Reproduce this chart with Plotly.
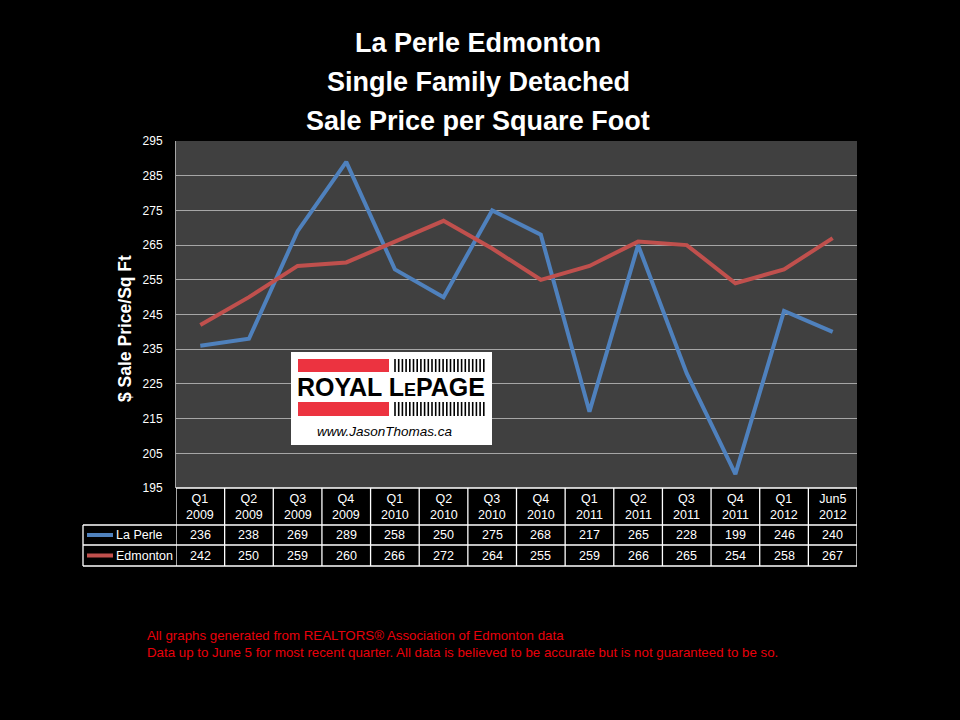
import plotly.graph_objects as go

categories = ["Q1 2009", "Q2 2009", "Q3 2009", "Q4 2009", "Q1 2010", "Q2 2010", "Q3 2010",
              "Q4 2010", "Q1 2011", "Q2 2011", "Q3 2011", "Q4 2011", "Q1 2012", "Jun5 2012"]
la_perle = [236, 238, 269, 289, 258, 250, 275, 268, 217, 265, 228, 199, 246, 240]
edmonton = [242, 250, 259, 260, 266, 272, 264, 255, 259, 266, 265, 254, 258, 267]
series_names = ["La Perle", "Edmonton"]
series_colors = ["#4f81bd", "#c0504d"]
title_lines = ["La Perle Edmonton", "Single Family Detached", "Sale Price per Square Foot"]
y_title = "$ Sale Price/Sq Ft"
footnotes = ["All graphs generated from REALTORS® Association of Edmonton data",
             "Data up to June 5 for most recent quarter. All data is believed to be accurate but is not guaranteed to be so."]

# plot area in pixels
L, R, T, B = 176, 857, 141, 488
W, H = R - L, B - T


def px(x):
    return (x - L) / W


def py(y):
    return (B - y) / H


FONT = "Liberation Sans"
fig = go.Figure()
for name, vals, col in zip(series_names, [la_perle, edmonton], series_colors):
    fig.add_trace(go.Scatter(x=categories, y=vals, mode="lines", name=name,
                             line=dict(color=col, width=4), showlegend=False))

shapes = []
ann = []


def add_text(x, y, text, size, color="white", xref="paper", xanchor="center", **kw):
    ann.append(dict(x=x, xref=xref, y=y, yref="paper", text=text, showarrow=False,
                    xanchor=xanchor, yanchor="middle",
                    font=dict(color=color, size=size, family=kw.pop("family", FONT)), **kw))


# table grid
n = len(categories)
rows_y = [488, 525, 545, 566]
for i in range(n + 1):
    shapes.append(dict(type="line", xref="x", yref="paper", x0=i - 0.5, x1=i - 0.5,
                       y0=py(488), y1=py(566), line=dict(color="white", width=1.3)))
shapes.append(dict(type="line", xref="paper", yref="paper", x0=px(176), x1=px(857),
                   y0=py(488), y1=py(488), line=dict(color="white", width=1.3)))
for ry in rows_y[1:]:
    shapes.append(dict(type="line", xref="paper", yref="paper", x0=px(83), x1=px(857),
                       y0=py(ry), y1=py(ry), line=dict(color="white", width=1.3)))
shapes.append(dict(type="line", xref="paper", yref="paper", x0=px(83), x1=px(83),
                   y0=py(525), y1=py(566), line=dict(color="white", width=1.3)))

TS = 12.5
# header labels
for c in categories:
    q, yr = c.split(" ")
    add_text(c, py(506.5), q + "<br>" + yr, TS, xref="x")
# values
row_centers = [535, 555.5]
for vals, yc in zip([la_perle, edmonton], row_centers):
    for c, v in zip(categories, vals):
        add_text(c, py(yc), str(v), TS, xref="x")
# series labels with color keys
for name, col, yc in zip(series_names, series_colors, row_centers):
    shapes.append(dict(type="line", xref="paper", yref="paper", x0=px(87), x1=px(113),
                       y0=py(yc), y1=py(yc), line=dict(color=col, width=4)))
    add_text(px(114), py(yc), name, TS, xanchor="left")

# titles
for t, yc in zip(title_lines, [43, 82, 121]):
    add_text(px(478), py(yc), "<b>" + t + "</b>", 27)
add_text(px(125), py(329), "<b>" + y_title + "</b>", 17.5, textangle=-90)

# footnotes
for t, yc in zip(footnotes, [635, 652]):
    add_text(px(145), py(yc), t, 13.3, color="#e8000b", xanchor="left")

# logo
shapes.append(dict(type="rect", xref="paper", yref="paper", x0=px(291), x1=px(492),
                   y0=py(352), y1=py(445), fillcolor="white", line=dict(width=0), layer="above"))
for y0, y1 in [(359, 372), (402, 416)]:
    shapes.append(dict(type="rect", xref="paper", yref="paper", x0=px(298), x1=px(389),
                       y0=py(y0), y1=py(y1), fillcolor="#ec3340", line=dict(width=0), layer="above"))
    xx = 395.0
    while xx <= 484:
        shapes.append(dict(type="line", xref="paper", yref="paper", x0=px(xx), x1=px(xx),
                           y0=py(y0), y1=py(y1), line=dict(color="black", width=1.6), layer="above"))
        xx += 3.7
add_text(px(391), py(387), "<b>ROYAL L<span style='font-size:18px'>E</span>PAGE</b>", 25, color="black")
add_text(px(385), py(431), "<i>www.JasonThomas.ca</i>", 13.5, color="black")

fig.update_layout(
    width=960, height=720,
    paper_bgcolor="black", plot_bgcolor="#404040",
    margin=dict(l=L, r=960 - R, t=T, b=720 - B),
    shapes=shapes, annotations=ann,
    xaxis=dict(type="category", categoryorder="array", categoryarray=categories,
               range=[-0.5, n - 0.5], showticklabels=False, showgrid=False, zeroline=False,
               showline=False),
    yaxis=dict(range=[195, 295], dtick=10, tick0=195, showgrid=True, gridcolor="#a6a6a6",
               gridwidth=1, zeroline=False, showline=True, linecolor="#a6a6a6", linewidth=1,
               tickfont=dict(color="white", size=12, family=FONT), ticklabelstandoff=10),
)
fig.write_html("out.html")
